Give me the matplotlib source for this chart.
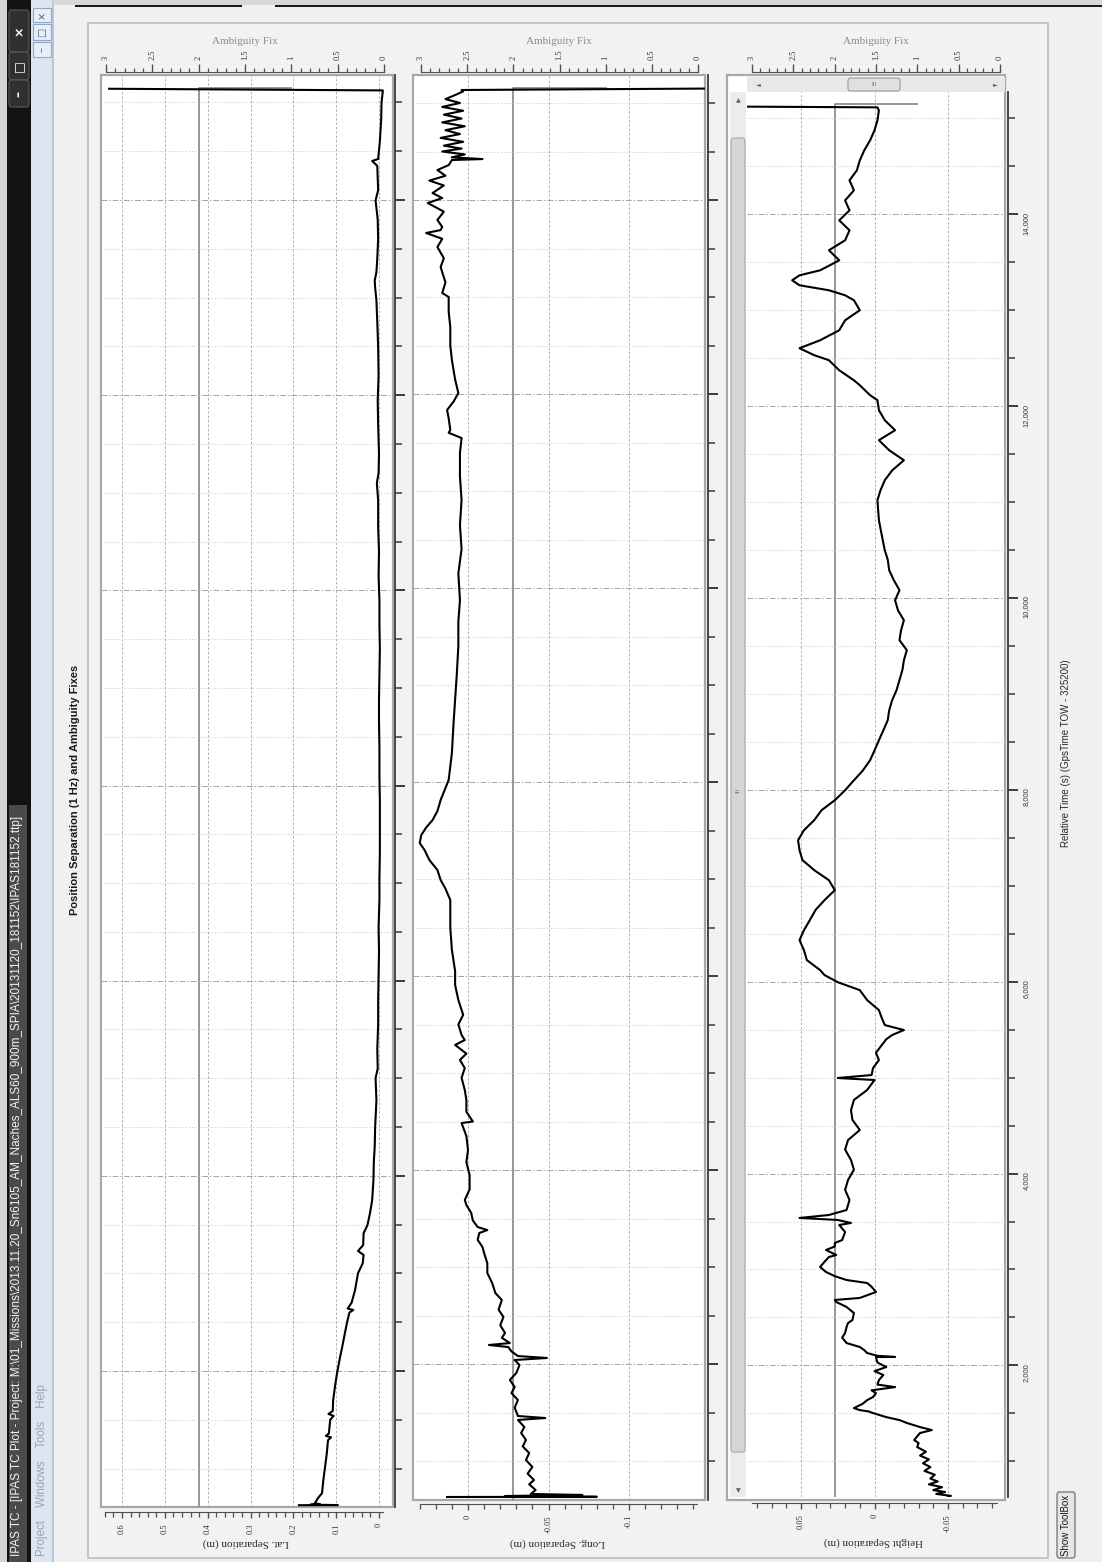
import numpy as np
import matplotlib
matplotlib.use("Agg")
import matplotlib.pyplot as plt
from matplotlib.patches import Rectangle, FancyBboxPatch
from matplotlib.ticker import FixedLocator, MultipleLocator, FuncFormatter

plt.rcParams['font.family'] = ['Liberation Sans', 'DejaVu Sans']

W, H = 1102, 1562
PT = 0.72  # points per pixel at 100 dpi

lat_t = [625, 626, 630, 636, 645, 700, 748, 880, 1014, 1150, 1291, 1320, 1335, 1360,
         1500, 1540, 1560, 1590, 1701, 1834, 1977, 2141, 2244, 2380, 2490, 2600, 2625,
         2640, 2700, 2828, 3002, 3104, 3190, 3230, 3290, 3412, 3494, 3617, 3750, 3955,
         4150, 4300, 4500, 4775, 5000, 5100, 5300, 5550, 5800, 6050, 6300, 6550, 6824,
         7050, 7300, 7550, 7848, 8100, 8400, 8650, 8873, 9150, 9400, 9650, 9898, 10150,
         10400, 10650, 10922, 11100, 11200, 11400, 11700, 11947, 12200, 12500, 12750,
         12971, 13100, 13176, 13260, 13400, 13600, 13800, 13996, 14100, 14350, 14400,
         14420, 14600, 14816, 15000, 15123, 15140]
lat_v = [0.187, 0.096, 0.160, 0.138, 0.150, 0.142, 0.133, 0.130, 0.126, 0.122, 0.119,
         0.112, 0.124, 0.117, 0.114, 0.106, 0.118, 0.108, 0.107, 0.103, 0.098, 0.091,
         0.086, 0.080, 0.075, 0.069, 0.060, 0.073, 0.064, 0.056, 0.049, 0.038, 0.036,
         0.049, 0.037, 0.036, 0.027, 0.021, 0.016, 0.013, 0.012, 0.010, 0.009, 0.006,
         0.008, 0.003, 0.004, 0.002, 0.002, 0.001, 0.000, 0.001, -0.001, -0.001, -0.002,
         -0.002, -0.002, -0.001, -0.001, 0.000, 0.000, -0.001, -0.002, -0.001, -0.001,
         0.001, 0.000, 0.002, 0.002, 0.005, 0.001, 0.000, 0.002, 0.003, 0.001, 0.002,
         0.004, 0.006, 0.009, 0.010, 0.006, 0.004, 0.002, 0.003, 0.008, 0.002, 0.004,
         0.016, 0.002, -0.002, -0.005, -0.006, -0.009, 0.630]

long_t = [629, 631, 639, 650, 660, 701, 760, 804, 870, 938, 1010, 1082, 1150, 1217, 1289,
          1350, 1423, 1443, 1464, 1550, 1629, 1700, 1763, 1835, 1907, 1990, 2041, 2062,
          2082, 2130, 2175, 2196, 2216, 2270, 2320, 2400, 2485, 2560, 2660, 2732, 2835,
          2938, 3040, 3144, 3206, 3280, 3350, 3381, 3412, 3480, 3557, 3639, 3691, 3800,
          3948, 4080, 4206, 4350, 4484, 4500, 4600, 4722, 4825, 4950, 5050, 5134, 5200,
          5289, 5340, 5392, 5500, 5600, 5753, 5907, 6050, 6268, 6500, 6783, 6900, 6990,
          7093, 7196, 7299, 7371, 7454, 7530, 7608, 7700, 7814, 8021, 8300, 8600, 8845,
          9100, 9400, 9650, 9876, 10150, 10400, 10650, 10907, 11150, 11392, 11546, 11600,
          11629, 11750, 11835, 11920, 12010, 12150, 12350, 12500, 12690, 12850, 13000,
          13041, 13150, 13309, 13400, 13515, 13600, 13660, 13690, 13722, 13794, 13880,
          13969, 14020, 14072, 14150, 14200, 14250, 14309, 14360, 14412, 14422, 14440,
          14470, 14500, 14530, 14560, 14600, 14640, 14680, 14720, 14760, 14800, 14840,
          14880, 14920, 14960, 15000, 15040, 15082, 15120, 15134, 15150]
long_v = [0.013, -0.080, -0.023, -0.071, -0.039, -0.042, -0.038, -0.041, -0.037, -0.040,
          -0.036, -0.038, -0.034, -0.036, -0.033, -0.035, -0.031, -0.048, -0.031, -0.029,
          -0.031, -0.027, -0.029, -0.026, -0.030, -0.032, -0.029, -0.049, -0.031, -0.027,
          -0.025, -0.013, -0.026, -0.021, -0.023, -0.020, -0.022, -0.019, -0.021, -0.017,
          -0.015, -0.012, -0.012, -0.010, -0.009, -0.006, -0.007, -0.012, -0.006, -0.003,
          -0.002, 0.001, 0.002, -0.001, -0.001, 0.001, 0.000, 0.001, 0.004, -0.003, 0.001,
          0.001, 0.002, 0.004, 0.002, 0.005, 0.001, 0.008, 0.002, 0.004, 0.006, 0.003,
          0.006, 0.008, 0.008, 0.010, 0.011, 0.011, 0.014, 0.017, 0.019, 0.024, 0.027,
          0.030, 0.029, 0.026, 0.022, 0.019, 0.017, 0.012, 0.010, 0.009, 0.008, 0.007,
          0.006, 0.006, 0.005, 0.006, 0.004, 0.005, 0.004, 0.005, 0.005, 0.004, 0.012,
          0.011, 0.012, 0.013, 0.009, 0.006, 0.008, 0.010, 0.011, 0.011, 0.012, 0.012,
          0.016, 0.014, 0.017, 0.015, 0.019, 0.016, 0.026, 0.017, 0.016, 0.019, 0.015,
          0.025, 0.016, 0.022, 0.015, 0.024, 0.014, 0.019, 0.012, 0.010, -0.009, 0.010,
          0.002, 0.016, 0.004, 0.015, 0.003, 0.017, 0.005, 0.014, 0.002, 0.016, 0.004,
          0.015, 0.003, 0.016, 0.005, 0.014, 0.008, 0.003, 0.004, -0.160]

hgt_t = [617, 640, 660, 680, 700, 730, 760, 790, 820, 860, 900, 940, 980, 1020, 1060,
         1100, 1149, 1190, 1222, 1260, 1295, 1326, 1357, 1400, 1430, 1461, 1480, 1503,
         1520, 1534, 1555, 1600, 1638, 1670, 1711, 1740, 1774, 1800, 1847, 1900, 1940,
         1983, 2030, 2087, 2088, 2100, 2129, 2160, 2192, 2233, 2290, 2338, 2400, 2442,
         2473, 2546, 2609, 2661, 2682, 2703, 2765, 2820, 2859, 2890, 2930, 2974, 3026,
         3080, 3130, 3151, 3203, 3240, 3276, 3307, 3391, 3464, 3485, 3516, 3537, 3568,
         3620, 3724, 3830, 3933, 4040, 4141, 4250, 4349, 4454, 4560, 4660, 4767, 4871,
         4975, 4996, 5027, 5100, 5183, 5260, 5340, 5400, 5444, 5496, 5548, 5620, 5704,
         5808, 5912, 5995, 6069, 6121, 6225, 6329, 6433, 6537, 6642, 6750, 6850, 6954,
         7058, 7163, 7267, 7371, 7475, 7579, 7684, 7788, 7892, 7996, 8100, 8200, 8309,
         8410, 8517, 8620, 8726, 8830, 8934, 9040, 9143, 9250, 9351, 9456, 9560, 9660,
         9768, 9870, 9977, 10081, 10190, 10290, 10400, 10498, 10650, 10811, 11019, 11120,
         11228, 11330, 11436, 11540, 11645, 11749, 11853, 11958, 12062, 12114, 12218,
         12270, 12374, 12479, 12531, 12604, 12687, 12791, 12895, 13000, 13104, 13156,
         13208, 13260, 13312, 13364, 13416, 13520, 13625, 13729, 13833, 13937, 14041,
         14145, 14250, 14354, 14458, 14562, 14666, 14771, 14875, 14979, 15083, 15115,
         15140]
hgt_v = [-0.049, -0.052, -0.042, -0.048, -0.040, -0.046, -0.037, -0.043, -0.038, -0.041,
         -0.034, -0.038, -0.033, -0.037, -0.031, -0.035, -0.029, -0.030, -0.027, -0.029,
         -0.031, -0.039, -0.031, -0.022, -0.017, -0.008, -0.004, 0.001, 0.004, 0.010,
         0.014, 0.008, 0.005, 0.001, -0.001, 0.002, -0.014, -0.002, -0.003, -0.006, 0.000,
         -0.008, -0.002, -0.001, -0.014, -0.002, 0.005, 0.007, 0.010, 0.019, 0.022, 0.020,
         0.019, 0.018, 0.015, 0.014, 0.019, 0.026, 0.027, 0.010, -0.001, 0.002, 0.005,
         0.019, 0.027, 0.033, 0.037, 0.034, 0.031, 0.026, 0.033, 0.027, 0.027, 0.022,
         0.020, 0.024, 0.016, 0.025, 0.051, 0.031, 0.019, 0.017, 0.020, 0.018, 0.014,
         0.016, 0.020, 0.018, 0.010, 0.015, 0.016, 0.014, 0.005, 0.000, 0.025, 0.002,
         0.001, -0.003, -0.001, -0.005, -0.008, -0.012, -0.020, -0.007, -0.005, -0.003,
         0.005, 0.010, 0.025, 0.034, 0.037, 0.046, 0.048, 0.051, 0.048, 0.044, 0.040,
         0.034, 0.027, 0.031, 0.041, 0.049, 0.051, 0.052, 0.048, 0.041, 0.036, 0.027,
         0.020, 0.014, 0.008, 0.003, 0.000, -0.003, -0.006, -0.009, -0.010, -0.012,
         -0.015, -0.017, -0.019, -0.020, -0.022, -0.017, -0.018, -0.020, -0.016, -0.014,
         -0.017, -0.013, -0.010, -0.009, -0.007, -0.005, -0.003, -0.002, -0.004, -0.007,
         -0.012, -0.020, -0.010, -0.003, -0.014, -0.007, -0.003, -0.002, 0.003, 0.010,
         0.014, 0.024, 0.031, 0.041, 0.051, 0.037, 0.024, 0.020, 0.010, 0.014, 0.020,
         0.031, 0.051, 0.056, 0.051, 0.037, 0.024, 0.031, 0.020, 0.017, 0.024, 0.017,
         0.020, 0.014, 0.017, 0.012, 0.010, 0.007, 0.003, 0.000, -0.002, -0.003, -0.002,
         0.300]

# ambiguity fix state (right hand scale)
amb_t = [500, 15150, 15150]
amb_v = [2, 2, 1]

lat_major = [0.6, 0.5, 0.4, 0.3, 0.2, 0.1, 0]
long_major = [0, -0.05, -0.1]
hgt_major = [0.05, 0, -0.05]
amb_major = [3, 2.5, 2, 1.5, 1, 0.5, 0]

fig = plt.figure(figsize=(W / 100, H / 100), dpi=100, facecolor="#f0f0f0")


def fbox(x0, y0, x1, y1):
    return [x0 / W, 1 - y1 / H, (x1 - x0) / W, (y1 - y0) / H]


def box(x0, y0, x1, y1, **kw):
    r = Rectangle((x0 / W, 1 - y1 / H), (x1 - x0) / W, (y1 - y0) / H,
                  transform=fig.transFigure, **kw)
    fig.add_artist(r)
    return r


def rbox(x0, y0, x1, y1, **kw):
    r = FancyBboxPatch((x0 / W, 1 - y1 / H), (x1 - x0) / W, (y1 - y0) / H,
                       boxstyle="round,pad=0,rounding_size=0.002",
                       transform=fig.transFigure, **kw)
    fig.add_artist(r)
    return r


def ftext(x, y, s, **kw):
    return fig.text(x / W, 1 - y / H, s, **kw)


def lim_from(cal, lo, hi):
    (p1, v1), (p2, v2) = cal
    k = (v2 - v1) / (p2 - p1)
    return v1 + (lo - p1) * k, v1 + (hi - p1) * k


def gfmt(x, pos):
    return f"{x:g}"


def add_panel(area, t, v, val_cal, time_cal, amb_cal, major, minor, bounds,
              off_val, off_time, off_amb, time_labels=False):
    x0, y0, x1, y1 = area
    ax = fig.add_axes(fbox(x0, y0, x1, y1))
    amb = ax.twiny()
    ax.set_zorder(3)
    amb.set_zorder(2)
    ax.patch.set_visible(False)

    amb.plot(amb_v, amb_t, color="#8e8e8e", lw=1.3)
    ax.plot(v, t, color="black", lw=1.5)

    ax.set_xlim(lim_from(val_cal, x0, x1))
    ax.set_ylim(lim_from(time_cal, y1, y0))
    amb.set_xlim(lim_from(amb_cal, x0, x1))

    # separation scale under the frame
    ax.xaxis.set_major_locator(FixedLocator(major))
    ax.xaxis.set_minor_locator(FixedLocator(minor))
    ax.xaxis.set_major_formatter(FuncFormatter(gfmt))
    ax.tick_params(axis="x", which="major", direction="out", length=6 * PT, width=1.0,
                   color="#505050", labelsize=6, labelrotation=90, pad=5 * PT,
                   labelfontfamily="Liberation Serif", labelcolor="#303030")
    ax.tick_params(axis="x", which="minor", direction="out", length=5 * PT, width=0.9,
                   color="#505050")
    ax.spines["bottom"].set_position(("outward", off_val * PT))
    ax.spines["bottom"].set_bounds(*bounds)
    ax.spines["bottom"].set_color("#505050")
    ax.spines["left"].set_visible(False)
    ax.spines["top"].set_visible(False)

    # time scale on the right
    ax.yaxis.tick_right()
    ax.yaxis.set_major_locator(MultipleLocator(2000))
    ax.yaxis.set_minor_locator(MultipleLocator(500))
    ax.yaxis.set_major_formatter(FuncFormatter(lambda x, p: f"{x:,.0f}"))
    ax.tick_params(axis="y", which="major", direction="out", length=10 * PT, width=1.4,
                   color="#3a3a3a", labelright=time_labels, labelleft=False,
                   labelsize=5.5, labelrotation=90, pad=5 * PT, labelcolor="#3a3a3a")
    ax.tick_params(axis="y", which="minor", direction="out", length=7 * PT, width=1.1,
                   color="#3a3a3a")
    for lab in ax.get_yticklabels():
        lab.set_va("center")
    ax.spines["right"].set_position(("outward", off_time * PT))
    ax.spines["right"].set_color("#3a3a3a")
    ax.spines["right"].set_linewidth(1.3)

    ax.grid(True, axis="x", which="major", color="#b0b0b0", lw=0.7, ls=(0, (2.5, 2)))
    ax.grid(True, axis="y", which="major", color="#a4a4a4", lw=0.7, ls=(0, (6, 2, 1.5, 2)))
    ax.grid(True, axis="y", which="minor", color="#c4c4c4", lw=0.7, ls=(0, (1, 2)))

    # ambiguity fix scale on top
    amb.xaxis.set_major_locator(FixedLocator(amb_major))
    amb.xaxis.set_minor_locator(FixedLocator(np.round(np.arange(0, 3.01, 0.1), 2)))
    amb.xaxis.set_major_formatter(FuncFormatter(gfmt))
    amb.tick_params(axis="x", which="major", direction="out", length=8 * PT, width=1.0,
                    color="#505050", labelsize=6, labelrotation=90, pad=4 * PT,
                    labelfontfamily="Liberation Serif", labelcolor="#303030")
    amb.tick_params(axis="x", which="minor", direction="out", length=4 * PT, width=0.9,
                    color="#505050")
    for s in ("left", "right", "bottom"):
        amb.spines[s].set_visible(False)
    amb.spines["top"].set_position(("outward", off_amb * PT))
    amb.spines["top"].set_bounds(0, 3)
    amb.spines["top"].set_color("#505050")
    return ax


# ---- window chrome
box(0, 0, 7, H, fc="#d4d4d4", ec="none", zorder=-3)
box(7, 0, 31, H, fc="#121212", ec="none", zorder=-3)
box(9, 805, 27, H, fc="#4a4a4a", ec="none", zorder=-3)
for (b0, b1, g) in [(10, 52, "\u00d7"), (52, 80, "\u25a1"), (80, 107, "\u2013")]:
    rbox(9, b0, 29, b1, fc="#303030", ec="#5a5a5a", lw=0.8, zorder=-2)
    ftext(19, (b0 + b1) / 2, g, color="white", fontsize=9, weight="bold",
          rotation=90, ha="center", va="center", family="DejaVu Sans")
ftext(17, 1556, "IPAS TC - [IPAS TC Plot - Project: M:\\01_Missions\\2013.11.20_Sn6105_AM_"
      "Naches_ALS60_900m_SPIA\\20131120_181152\\IPAS181152.ttp]",
      color="#f4f4f4", fontsize=8.5, rotation=90, rotation_mode="anchor",
      ha="left", va="center")

box(31, 0, 53, H, fc="#dce6f2", ec="none", zorder=-3)
box(52, 0, 53.5, H, fc="#b8c6d8", ec="none", zorder=-3)
for (b0, b1, g) in [(8, 22, "\u00d7"), (24, 40, "\u25a1"), (42, 57, "\u2013")]:
    box(33, b0, 51, b1, fc="#e8eef8", ec="#94a8c6", lw=0.8, zorder=-2)
    ftext(42, (b0 + b1) / 2, g, color="#4c5d7c", fontsize=7, rotation=90,
          ha="center", va="center", family="DejaVu Sans")
ftext(42, 1556, "Project    Windows    Tools    Help", color="#a2a2a2", fontsize=8.3,
      rotation=90, rotation_mode="anchor", ha="left", va="center")

box(53, 0, W, 5, fc="#d8d8d8", ec="none", zorder=-3)
box(75, 5, 242, 7, fc="#1a1a1a", ec="none", zorder=-3)
box(275, 5, W, 7, fc="#1a1a1a", ec="none", zorder=-3)
box(88, 23, 1048, 1558, fc="#f2f2f2", ec="#c4c4c4", lw=1.4, zorder=-2.5)

# panel frames
box(101, 75, 393, 1507, fc="white", ec="#a8a8a8", lw=1.6, zorder=-1)
box(413, 75, 705, 1500, fc="white", ec="#a8a8a8", lw=1.6, zorder=-1)
box(727, 75, 1005, 1500, fc="white", ec="#a8a8a8", lw=1.6, zorder=-1)

ftext(75, 790, "Position Separation (1 Hz) and Ambiguity Fixes", rotation=90,
      ha="center", va="center", fontsize=8, weight="bold", color="#1a1a1a")
ftext(1066, 753, "Relative Time (s) (GpsTime TOW - 325200)", rotation=90,
      ha="center", va="center", fontsize=7, color="#2a2a2a")

add_panel((101, 75, 393, 1507), lat_t, lat_v,
          ((122, 0.6), (379, 0.0)), ((1371, 2000), (200, 14000)), ((106, 3), (384, 0)),
          lat_major, np.round(np.arange(0, 0.65, 0.02), 2), (-0.01, 0.64), 5, 2, 3)
add_panel((413, 75, 705, 1500), long_t, long_v,
          ((468, 0.0), (629, -0.1)), ((1364, 2000), (200, 14000)), ((421, 3), (698, 0)),
          long_major, np.round(np.arange(-0.14, 0.035, 0.01), 2), (-0.142, 0.03), 4, 3, 3)
add_panel((747, 92, 1005, 1497), hgt_t, hgt_v,
          ((801, 0.05), (948, -0.05)), ((1365.4, 2000), (214.3, 14000)), ((752, 3), (1000, 0)),
          hgt_major, np.round(np.arange(-0.08, 0.085, 0.01), 2), (-0.083, 0.083), 6, 3, 20,
          time_labels=True)

for (cx, cy, s) in [(246, 1543, "Lat. Separation (m)"), (557, 1543, "Long. Separation (m)"),
                    (873, 1542, "Height Separation (m)")]:
    ftext(cx, cy, s, rotation=180, ha="center", va="center", fontsize=8,
          family="Liberation Serif", color="#2a2a2a")
for cx in (245, 559, 876):
    ftext(cx, 42, "Ambiguity Fix", ha="center", va="center", fontsize=8,
          family="Liberation Serif", color="#8a8a8a")

# scroll bars of the zoomed height panel
box(747, 77, 1005, 92, fc="#e8e8e8", ec="none", zorder=5)
rbox(848, 78, 900, 91, fc="#e0e0e0", ec="#9c9c9c", lw=0.8, zorder=6)
ftext(874, 85, "III", fontsize=4.5, color="#707070", ha="center", va="center", zorder=7)
ftext(758, 85, "\u25c4", fontsize=4.5, color="#606060", ha="center", va="center",
      family="DejaVu Sans", zorder=7)
ftext(995, 85, "\u25ba", fontsize=4.5, color="#606060", ha="center", va="center",
      family="DejaVu Sans", zorder=7)
box(730, 92, 746, 1497, fc="#ececec", ec="none", zorder=5)
rbox(731, 138, 745, 1452, fc="#d6d6d6", ec="#a8a8a8", lw=0.8, zorder=6)
ftext(738, 790, "III", fontsize=4.5, color="#707070", rotation=90, ha="center",
      va="center", zorder=7)
ftext(738, 101, "\u25b2", fontsize=4.5, color="#606060", ha="center", va="center",
      family="DejaVu Sans", zorder=7)
ftext(738, 1491, "\u25bc", fontsize=4.5, color="#606060", ha="center", va="center",
      family="DejaVu Sans", zorder=7)

# toolbox button
rbox(1057, 1492, 1075, 1558, fc="#e6e6e6", ec="#707070", lw=0.9, zorder=2)
ftext(1066, 1525, "Show ToolBox", rotation=90, ha="center", va="center", fontsize=7,
      color="#1a1a1a", zorder=3)

fig.savefig("out.png", dpi=100, facecolor=fig.get_facecolor())
